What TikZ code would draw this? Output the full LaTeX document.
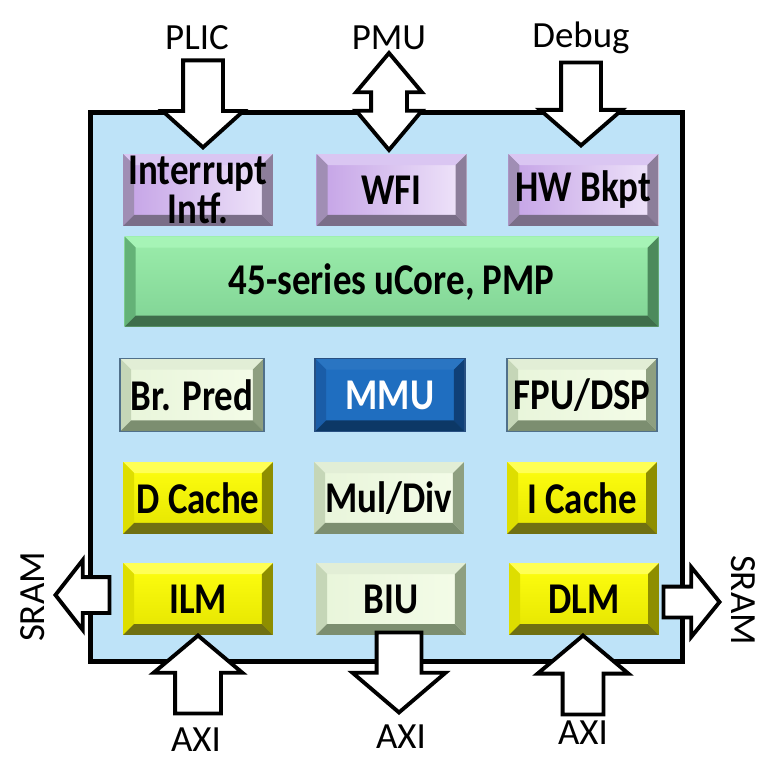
\documentclass[tikz,border=0pt]{standalone}
\usepackage{fontspec}
\setmainfont{Carlito}
\newfontfamily\unitfont[FakeStretch=0.84]{Carlito}
\usepackage{tikz}
\usepackage{xcolor}
\usetikzlibrary{positioning,shapes.arrows}

\definecolor{chipblue}{HTML}{BEE3F8}
% lilac units
\definecolor{lilacA}{HTML}{C4A2E6}
\definecolor{lilacB}{HTML}{F0E6FA}
\definecolor{lilacT}{HTML}{DAC6F2}
\definecolor{lilacL}{HTML}{A08EB4}
\definecolor{lilacR}{HTML}{8C7E9A}
\definecolor{lilacD}{HTML}{7A6E88}
% core
\definecolor{mintA}{HTML}{9BEDAB}
\definecolor{mintB}{HTML}{80D394}
\definecolor{mintT}{HTML}{A6F4B6}
\definecolor{mintL}{HTML}{64B277}
\definecolor{mintR}{HTML}{4C8A5C}
\definecolor{mintD}{HTML}{3F6E4B}
% pale green units
\definecolor{paleA}{HTML}{E8F5DA}
\definecolor{paleB}{HTML}{F4FCE8}
\definecolor{paleT}{HTML}{E2EED6}
\definecolor{paleL}{HTML}{C5D6B7}
\definecolor{paleR}{HTML}{8E9F80}
\definecolor{paleD}{HTML}{7C8E70}
\definecolor{paleedge}{HTML}{50708A}
% mmu
\definecolor{navyA}{HTML}{1F6EC0}
\definecolor{navyT}{HTML}{2A75C2}
\definecolor{navyL}{HTML}{1A5DA8}
\definecolor{navyR}{HTML}{0F4078}
\definecolor{navyD}{HTML}{0C3866}
\definecolor{navyedge}{HTML}{285082}
% yellow units
\definecolor{lemonA}{HTML}{FFFF10}
\definecolor{lemonB}{HTML}{E4E400}
\definecolor{lemonT}{HTML}{FFFF55}
\definecolor{lemonL}{HTML}{DEDE00}
\definecolor{lemonR}{HTML}{8E8E00}
\definecolor{lemonD}{HTML}{707012}

\begin{document}
\begin{tikzpicture}[
  x=0.02cm, y=-0.02cm,
  unit/.style={inner sep=0pt, align=center, minimum width=3cm, minimum height=1.44cm, font=\unitfont\fontsize{25}{19}\selectfont\bfseries},
  bevel/.style n args={4}{path picture={
    \fill[#1] (path picture bounding box.north west) -- (path picture bounding box.north east)
      -- ([shift={(-0.22cm,-0.22cm)}]path picture bounding box.north east)
      -- ([shift={(0.22cm,-0.22cm)}]path picture bounding box.north west) -- cycle;
    \fill[#2] (path picture bounding box.north west) -- (path picture bounding box.south west)
      -- ([shift={(0.22cm,0.22cm)}]path picture bounding box.south west)
      -- ([shift={(0.22cm,-0.22cm)}]path picture bounding box.north west) -- cycle;
    \fill[#3] (path picture bounding box.north east) -- (path picture bounding box.south east)
      -- ([shift={(-0.22cm,0.22cm)}]path picture bounding box.south east)
      -- ([shift={(-0.22cm,-0.22cm)}]path picture bounding box.north east) -- cycle;
    \fill[#4] (path picture bounding box.south west) -- (path picture bounding box.south east)
      -- ([shift={(-0.22cm,0.22cm)}]path picture bounding box.south east)
      -- ([shift={(0.22cm,0.22cm)}]path picture bounding box.south west) -- cycle;
  }},
  lilac/.style={unit, left color=lilacA, right color=lilacB, bevel={lilacT}{lilacL}{lilacR}{lilacD}},
  mint/.style={unit, top color=mintA, bottom color=mintB, bevel={mintT}{mintL}{mintR}{mintD}},
  pale/.style={unit, left color=paleA, right color=paleB, bevel={paleT}{paleL}{paleR}{paleD}},
  navy/.style={unit, text=white, fill=navyA, bevel={navyT}{navyL}{navyR}{navyD}},
  lemon/.style={unit, top color=lemonA, bottom color=lemonB, bevel={lemonT}{lemonL}{lemonR}{lemonD}},
  edged/.style={draw=#1, line width=0.6pt},
  ext/.style={font=\fontsize{21}{24}\selectfont},
  bigarrow/.style={draw=black, fill=white, line width=2.2pt, inner xsep=0pt}
]
\useasboundingbox (0,0) rectangle (780,783);

% chip outline
\node[draw, line width=2.8pt, fill=chipblue, minimum width=11.86cm, minimum height=11cm] (chip) at (386.5,387) {};

% top row
\node[lilac] (intf) at (198,190) {Interrupt\\Intf.};
\node[lilac, right=0.86cm of intf] (wfi) {WFI};
\node[lilac, right=0.82cm of wfi] (bkpt) {HW Bkpt};
\node[mint, minimum width=10.68cm, minimum height=1.8cm, below=0.2cm of wfi] (ucore) {45-series uCore, PMP};

% units
\node[pale, edged=paleedge, minimum width=2.88cm, minimum height=1.46cm] (brpred) at (192,395) {Br. Pred};
\node[navy, edged=navyedge, minimum height=1.46cm] (mmu) at (390,395) {MMU};
\node[pale, edged=paleedge, minimum height=1.46cm] (fpu) at (582,395) {FPU/DSP};
\node[lemon] (dcache) at (198,498) {D Cache};
\node[pale] (muldiv) at (389,498) {Mul/Div};
\node[lemon] (icache) at (582,498) {I Cache};
\node[lemon] (ilm) at (198,599) {ILM};
\node[pale] (biu) at (391,599) {BIU};
\node[lemon] (dlm) at (584,599) {DLM};

% outside signals
\node[ext] (plic) at (197,38) {PLIC};
\node[ext] (pmu) at (389,38) {PMU};
\node[ext] (debug) at (581,38) {Debug};
\node[ext] (axi ilm) at (196,740) {AXI};
\node[ext] (axi biu) at (401,737) {AXI};
\node[ext] (axi dlm) at (583,733) {AXI};
\node[ext, rotate=90] (sram l) at (33,597) {SRAM};
\node[ext, rotate=-90] (sram r) at (743,600) {SRAM};

% block arrows
\node[bigarrow, single arrow, rotate=-90, anchor=tip, inner ysep=0.36cm, minimum height=1.74cm,
  single arrow head extend=0.41cm, single arrow tip angle=96] (plic in) at (203,150) {};
\node[bigarrow, double arrow, rotate=90, inner ysep=0.32cm, minimum height=1.94cm,
  double arrow head extend=0.3cm, double arrow tip angle=80] (pmu io) at (389,101.5) {};
\node[bigarrow, single arrow, rotate=-90, anchor=tip, inner ysep=0.36cm, minimum height=1.66cm,
  single arrow head extend=0.42cm, single arrow tip angle=98] (debug in) at (581,148) {};
\node[bigarrow, single arrow, rotate=90, anchor=tip, inner ysep=0.42cm, minimum height=1.56cm,
  single arrow head extend=0.43cm, single arrow tip angle=100] (ilm in) at (198,633) {};
\node[bigarrow, single arrow, rotate=-90, anchor=tip, inner ysep=0.41cm, minimum height=1.6cm,
  single arrow head extend=0.48cm, single arrow tip angle=99] (biu out) at (399,715) {};
\node[bigarrow, single arrow, rotate=90, anchor=tip, inner ysep=0.37cm, minimum height=1.58cm,
  single arrow head extend=0.5cm, single arrow tip angle=100] (dlm in) at (583,633) {};
\node[bigarrow, single arrow, rotate=180, anchor=tip, inner ysep=0.32cm, minimum height=1.08cm,
  single arrow head extend=0.34cm, single arrow tip angle=104] (sram l out) at (53,595) {};
\node[bigarrow, single arrow, anchor=tip, inner ysep=0.27cm, minimum height=1.12cm,
  single arrow head extend=0.39cm, single arrow tip angle=102] (sram r out) at (722,602) {};
\end{tikzpicture}
\end{document}
